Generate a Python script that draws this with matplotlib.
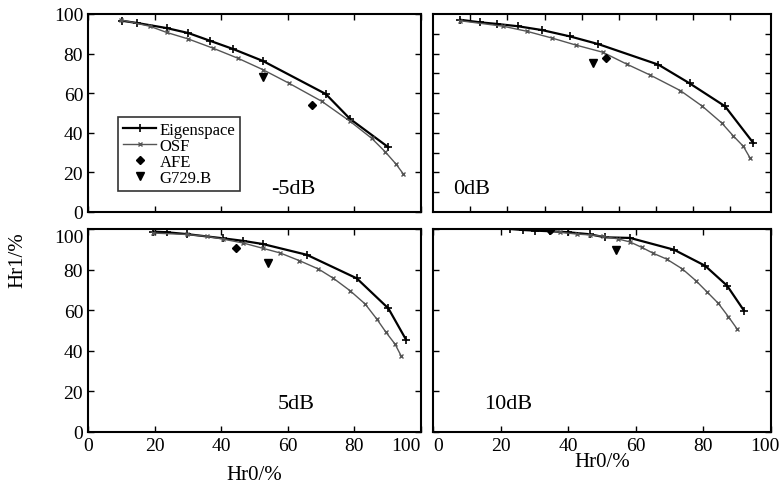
import numpy as np
import matplotlib.pyplot as plt
import matplotlib.transforms as mtransforms

plt.rcParams['font.family'] = ['Liberation Serif', 'DejaVu Serif']

# -5dB
eig_m5_x = [10.1, 14.6, 23.6, 30.1, 36.6, 43.6, 52.5, 71.4, 78.7, 90.2]
eig_m5_y = [96.6, 95.5, 92.9, 90.4, 86.5, 82.3, 76.3, 59.6, 47.0, 32.7]
osf_m5_x = [10.0, 18.6, 23.6, 30.1, 37.6, 45.1, 52.5, 60.4, 70.2, 78.7, 85.2, 89.2, 92.5, 94.7]
osf_m5_y = [97.0, 93.8, 90.7, 87.4, 82.7, 77.6, 71.9, 65.0, 55.9, 45.8, 37.2, 30.5, 24.2, 19.2]
afe_m5 = (67.4, 54.0)
g729_m5 = (52.5, 68.0)

# 0dB
eig_0_x = [8.0, 13.9, 18.8, 25.2, 32.2, 40.5, 48.9, 66.7, 75.9, 86.4, 94.8]
eig_0_y = [97.1, 95.8, 95.0, 93.8, 91.9, 88.7, 84.8, 74.4, 65.0, 53.4, 34.8]
osf_0_x = [8.0, 20.8, 27.7, 35.1, 42.3, 50.2, 57.3, 64.2, 73.2, 79.7, 85.4, 88.8, 91.8, 93.8]
osf_0_y = [96.6, 93.8, 91.3, 87.9, 84.3, 80.7, 74.7, 69.2, 61.3, 53.4, 45.0, 38.5, 33.2, 27.3]
afe_0 = (51.3, 77.6)
g729_0 = (47.4, 75.3)

# 5dB
eig_5_x = [19.6, 23.6, 29.6, 40.6, 46.4, 52.5, 65.7, 80.7, 90.2, 95.5]
eig_5_y = [98.7, 98.4, 97.5, 95.4, 94.2, 92.6, 87.3, 75.7, 60.9, 45.5]
osf_5_x = [19.6, 29.6, 35.6, 40.6, 46.6, 52.5, 57.7, 63.5, 69.2, 73.7, 78.7, 83.2, 86.7, 89.5, 92.2, 94.0]
osf_5_y = [98.0, 97.3, 96.4, 95.0, 93.1, 90.5, 88.2, 84.4, 80.3, 75.7, 69.6, 63.1, 55.7, 49.1, 43.3, 37.6]
afe_5 = (44.3, 90.6)
g729_5 = (54.0, 83.1)

# 10dB
eig_10_x = [22.8, 26.7, 30.2, 34.6, 40.0, 46.4, 50.9, 58.3, 71.3, 80.5, 87.0, 92.0]
eig_10_y = [100.0, 99.5, 99.2, 98.9, 98.4, 97.4, 95.9, 95.6, 89.8, 81.9, 72.1, 59.8]
osf_10_x = [34.5, 37.6, 42.5, 46.4, 50.2, 54.8, 58.3, 61.7, 65.2, 69.1, 73.8, 77.8, 81.2, 84.4, 87.4, 90.0]
osf_10_y = [99.2, 98.4, 97.5, 97.1, 96.4, 95.1, 93.6, 91.0, 88.0, 85.2, 80.3, 74.5, 68.8, 63.4, 56.8, 50.7]
afe_10 = (34.6, 99.5)
g729_10 = (54.1, 89.7)

panels = [
    ('-5dB', eig_m5_x, eig_m5_y, osf_m5_x, osf_m5_y, afe_m5, g729_m5),
    ('0dB', eig_0_x, eig_0_y, osf_0_x, osf_0_y, afe_0, g729_0),
    ('5dB', eig_5_x, eig_5_y, osf_5_x, osf_5_y, afe_5, g729_5),
    ('10dB', eig_10_x, eig_10_y, osf_10_x, osf_10_y, afe_10, g729_10),
]

W, H = 782, 489
fig = plt.figure(figsize=(W / 100, H / 100), dpi=100)

def box(x0, y0, x1, y1):
    return [x0 / W, 1 - y1 / H, (x1 - x0) / W, (y1 - y0) / H]

rects = [box(88, 15, 421, 213), box(433, 15, 771, 213),
         box(88, 230, 421, 433), box(433, 230, 771, 433)]
label_pos = [(0.55, 0.12), (0.06, 0.12), (0.57, 0.14), (0.15, 0.14)]

for i, (name, ex, ey, ox, oy, afe, g729) in enumerate(panels):
    ax = fig.add_axes(rects[i])
    ax.plot(ex, ey, '-', color='black', lw=1.6, marker='+', ms=6, mew=1.2,
            label='Eigenspace')
    ax.plot(ox, oy, '-', color='#555555', lw=1.0, marker='x', ms=3.5, mew=1.0,
            label='OSF')
    ax.plot([afe[0]], [afe[1]], linestyle='none', marker='D', ms=4.5,
            color='black', label='AFE')
    ax.plot([g729[0]], [g729[1]], linestyle='none', marker='v', ms=5.5,
            color='black', label='G729.B')
    ax.set_xlim(0, 100)
    ax.set_ylim(0, 100)
    ax.tick_params(direction='in', top=True, right=True, length=4,
                   labelsize=14, width=1)
    for s in ax.spines.values():
        s.set_linewidth(1.5)
    ax.text(label_pos[i][0], label_pos[i][1], name, transform=ax.transAxes,
            fontsize=16, ha='left', va='center')

    if i == 1:
        ax.set_xticks([11, 22, 33, 44, 55, 66, 77, 88])
        ax.set_yticks(np.arange(10, 100, 10))
    else:
        ax.set_xticks([0, 20, 40, 60, 80, 100])
        ax.set_yticks([0, 20, 40, 60, 80, 100])

    if i in (0, 1):
        ax.set_xticklabels([])
    if i in (1, 3):
        ax.set_yticklabels([])

    if i == 2:
        labs = ax.get_xticklabels()
        labs[-1].set_ha('right')
        ylabs = ax.get_yticklabels()
        ylabs[-1].set_va('top')
        ax.set_xlabel('Hr0/%', fontsize=15, labelpad=8)
    if i == 3:
        labs = ax.get_xticklabels()
        labs[0].set_ha('left')
        labs[-1].set_ha('right')
        labs[-1].set_transform(labs[-1].get_transform() +
                               mtransforms.ScaledTranslation(0.09, 0, fig.dpi_scale_trans))
        ax.set_xlabel('Hr0/%', fontsize=15, labelpad=-1)

    if i == 0:
        leg = ax.legend(loc='lower left', bbox_to_anchor=(0.09, 0.105),
                        borderaxespad=0, fontsize=12, frameon=True,
                        fancybox=False, edgecolor='black', handlelength=2.0,
                        borderpad=0.3, labelspacing=0.0, handletextpad=0.2)
        leg.get_frame().set_linewidth(1.2)

fig.text(18 / W, 1 - 260 / H, 'Hr1/%', rotation=90, fontsize=15,
         ha='center', va='center')

plt.savefig('out.png', dpi=100)
